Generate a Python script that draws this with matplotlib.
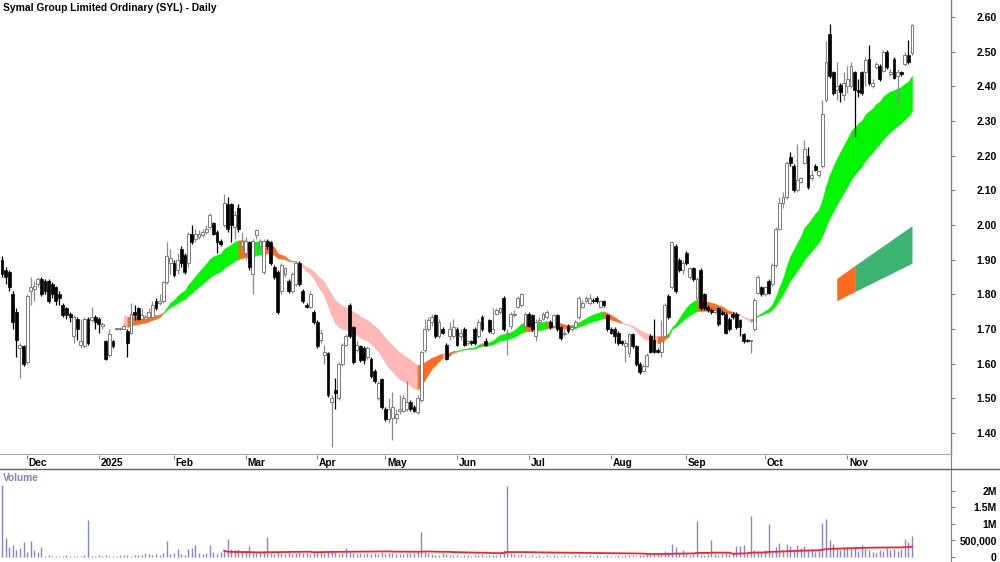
import numpy as np
import pandas as pd
import matplotlib
matplotlib.use("Agg")
import matplotlib.pyplot as plt
from matplotlib.lines import Line2D

plt.rcParams['font.family'] = ['Liberation Sans', 'DejaVu Sans']

title = "Symal Group Limited Ordinary (SYL) - Daily"

# daily OHLC, one value per trading day (late Nov 2024 -> late Nov 2025)
opens = [
    1.90, 1.87, 1.865, 1.80, 1.75, 1.645, 1.65, 1.605, 1.81, 1.815,
    1.83, 1.845, 1.84, 1.84, 1.83, 1.82, 1.80, 1.77, 1.76, 1.745,
    1.68, 1.73, 1.655, 1.65, 1.73, 1.725, 1.735, 1.73, 1.71, 1.665,
    1.625, 1.665, 1.70, 1.70, 1.70, 1.695, 1.69, 1.75, 1.76, 1.73,
    1.73, 1.735, 1.735, 1.78, 1.775, 1.78, 1.835, 1.89, 1.89, 1.87,
    1.93, 1.915, 1.89, 1.975, 1.96, 1.965, 1.97, 1.98, 1.995, 2.005,
    1.98, 1.955, 2.00, 2.06, 2.06, 1.995, 2.05, 1.94, 1.92, 1.95,
    1.86, 1.97, 1.94, 1.865, 1.955, 1.95, 1.88, 1.865, 1.81, 1.86,
    1.84, 1.81, 1.83, 1.89, 1.81, 1.77, 1.765, 1.75, 1.72, 1.67,
    1.625, 1.63, 1.49, 1.525, 1.50, 1.60, 1.655, 1.77, 1.705, 1.64,
    1.65, 1.645, 1.62, 1.615, 1.58, 1.50, 1.555, 1.47, 1.44, 1.445,
    1.445, 1.465, 1.465, 1.47, 1.49, 1.475, 1.46, 1.495, 1.64, 1.70,
    1.72, 1.74, 1.68, 1.70, 1.655, 1.68, 1.68, 1.70, 1.68, 1.70,
    1.66, 1.665, 1.70, 1.68, 1.735, 1.665, 1.725, 1.69, 1.745, 1.75,
    1.79, 1.685, 1.71, 1.74, 1.765, 1.77, 1.71, 1.745, 1.74, 1.68,
    1.72, 1.73, 1.735, 1.72, 1.71, 1.74, 1.705, 1.685, 1.71, 1.70,
    1.705, 1.735, 1.765, 1.78, 1.775, 1.785, 1.79, 1.765, 1.78, 1.74,
    1.70, 1.70, 1.69, 1.665, 1.65, 1.63, 1.685, 1.65, 1.60, 1.58,
    1.595, 1.68, 1.67, 1.64, 1.635, 1.68, 1.795, 1.82, 1.94, 1.90,
    1.87, 1.92, 1.85, 1.875, 1.79, 1.87, 1.80, 1.765, 1.755, 1.75,
    1.76, 1.75, 1.745, 1.73, 1.745, 1.745, 1.725, 1.685, 1.67, 1.665,
    1.70, 1.805, 1.82, 1.80, 1.84, 1.83, 1.885, 1.99, 2.065, 2.08,
    2.195, 2.17, 2.10, 2.125, 2.18, 2.20, 2.135, 2.17, 2.145, 2.17,
    2.36, 2.55, 2.44, 2.39, 2.405, 2.375, 2.40, 2.40, 2.44, 2.39,
    2.44, 2.44, 2.48, 2.40, 2.455, 2.46, 2.445, 2.50, 2.435, 2.48,
    2.43, 2.44, 2.465, 2.49, 2.495,
]
highs = [
    1.91, 1.88, 1.87, 1.81, 1.76, 1.66, 1.655, 1.80, 1.85, 1.84,
    1.85, 1.85, 1.845, 1.845, 1.835, 1.825, 1.81, 1.775, 1.765, 1.75,
    1.74, 1.735, 1.73, 1.735, 1.735, 1.765, 1.74, 1.735, 1.72, 1.67,
    1.70, 1.67, 1.702, 1.705, 1.715, 1.70, 1.775, 1.77, 1.765, 1.76,
    1.74, 1.76, 1.78, 1.79, 1.80, 1.84, 1.95, 1.93, 1.90, 1.92,
    1.94, 1.92, 1.98, 2.00, 1.99, 1.985, 1.99, 2.00, 2.035, 2.01,
    1.985, 1.96, 2.09, 2.08, 2.065, 2.04, 2.06, 1.98, 1.965, 1.955,
    1.96, 1.99, 1.96, 1.96, 1.96, 1.955, 1.885, 1.87, 1.89, 1.88,
    1.845, 1.865, 1.895, 1.895, 1.815, 1.775, 1.81, 1.755, 1.725, 1.70,
    1.655, 1.635, 1.51, 1.56, 1.605, 1.66, 1.685, 1.775, 1.71, 1.665,
    1.655, 1.65, 1.65, 1.62, 1.585, 1.55, 1.56, 1.475, 1.50, 1.52,
    1.47, 1.51, 1.51, 1.55, 1.495, 1.48, 1.51, 1.64, 1.73, 1.735,
    1.745, 1.745, 1.73, 1.705, 1.66, 1.72, 1.73, 1.705, 1.70, 1.705,
    1.67, 1.67, 1.705, 1.73, 1.74, 1.675, 1.73, 1.76, 1.76, 1.765,
    1.795, 1.70, 1.75, 1.755, 1.795, 1.805, 1.75, 1.75, 1.745, 1.73,
    1.735, 1.75, 1.755, 1.725, 1.745, 1.745, 1.71, 1.70, 1.715, 1.71,
    1.725, 1.795, 1.785, 1.795, 1.80, 1.79, 1.795, 1.785, 1.785, 1.745,
    1.705, 1.705, 1.695, 1.67, 1.67, 1.69, 1.69, 1.655, 1.605, 1.60,
    1.63, 1.685, 1.73, 1.645, 1.725, 1.775, 1.80, 1.955, 1.945, 1.905,
    1.90, 1.925, 1.88, 1.88, 1.85, 1.875, 1.805, 1.77, 1.76, 1.76,
    1.765, 1.755, 1.75, 1.735, 1.75, 1.75, 1.73, 1.69, 1.672, 1.67,
    1.79, 1.855, 1.825, 1.825, 1.845, 1.89, 1.995, 2.08, 2.095, 2.185,
    2.21, 2.175, 2.235, 2.14, 2.245, 2.225, 2.16, 2.175, 2.16, 2.36,
    2.53, 2.58, 2.445, 2.47, 2.41, 2.44, 2.46, 2.47, 2.445, 2.42,
    2.445, 2.485, 2.52, 2.42, 2.47, 2.465, 2.505, 2.505, 2.45, 2.485,
    2.45, 2.445, 2.50, 2.535, 2.58,
]
lows = [
    1.85, 1.83, 1.81, 1.70, 1.62, 1.56, 1.595, 1.60, 1.77, 1.78,
    1.82, 1.795, 1.80, 1.775, 1.79, 1.77, 1.77, 1.735, 1.73, 1.72,
    1.66, 1.67, 1.645, 1.645, 1.655, 1.72, 1.70, 1.69, 1.70, 1.61,
    1.62, 1.645, 1.698, 1.698, 1.70, 1.62, 1.685, 1.725, 1.725, 1.725,
    1.725, 1.73, 1.73, 1.755, 1.77, 1.775, 1.83, 1.86, 1.85, 1.86,
    1.88, 1.86, 1.88, 1.945, 1.95, 1.96, 1.965, 1.975, 1.99, 1.97,
    1.92, 1.94, 1.995, 1.98, 1.95, 1.96, 1.98, 1.93, 1.90, 1.87,
    1.80, 1.96, 1.93, 1.86, 1.93, 1.885, 1.845, 1.745, 1.80, 1.85,
    1.805, 1.805, 1.825, 1.825, 1.775, 1.76, 1.76, 1.715, 1.645, 1.66,
    1.60, 1.505, 1.36, 1.47, 1.495, 1.595, 1.65, 1.675, 1.60, 1.635,
    1.605, 1.60, 1.615, 1.56, 1.545, 1.495, 1.47, 1.435, 1.43, 1.38,
    1.43, 1.455, 1.46, 1.465, 1.465, 1.46, 1.455, 1.49, 1.635, 1.695,
    1.71, 1.675, 1.675, 1.685, 1.61, 1.67, 1.675, 1.65, 1.67, 1.65,
    1.655, 1.655, 1.655, 1.675, 1.695, 1.65, 1.69, 1.685, 1.74, 1.745,
    1.695, 1.625, 1.70, 1.735, 1.76, 1.765, 1.70, 1.705, 1.695, 1.665,
    1.715, 1.725, 1.73, 1.70, 1.705, 1.695, 1.67, 1.68, 1.69, 1.695,
    1.70, 1.73, 1.76, 1.775, 1.77, 1.775, 1.775, 1.76, 1.765, 1.695,
    1.685, 1.66, 1.655, 1.655, 1.605, 1.62, 1.645, 1.595, 1.57, 1.575,
    1.59, 1.63, 1.63, 1.63, 1.62, 1.675, 1.73, 1.815, 1.805, 1.865,
    1.86, 1.885, 1.845, 1.84, 1.785, 1.755, 1.755, 1.75, 1.745, 1.745,
    1.71, 1.74, 1.685, 1.695, 1.73, 1.70, 1.68, 1.66, 1.662, 1.63,
    1.695, 1.80, 1.795, 1.795, 1.80, 1.825, 1.88, 1.985, 2.05, 2.075,
    2.17, 2.095, 2.095, 2.12, 2.175, 2.105, 2.13, 2.155, 2.14, 2.165,
    2.355, 2.425, 2.375, 2.36, 2.355, 2.36, 2.38, 2.395, 2.255, 2.37,
    2.375, 2.40, 2.405, 2.395, 2.45, 2.415, 2.44, 2.45, 2.43, 2.42,
    2.35, 2.43, 2.46, 2.465, 2.49,
]
closes = [
    1.86, 1.85, 1.82, 1.72, 1.67, 1.655, 1.60, 1.795, 1.82, 1.825,
    1.845, 1.80, 1.81, 1.78, 1.80, 1.78, 1.79, 1.74, 1.74, 1.735,
    1.735, 1.70, 1.665, 1.73, 1.66, 1.735, 1.72, 1.715, 1.715, 1.615,
    1.685, 1.65, 1.70, 1.702, 1.71, 1.66, 1.745, 1.74, 1.73, 1.74,
    1.735, 1.75, 1.77, 1.76, 1.78, 1.835, 1.91, 1.905, 1.855, 1.90,
    1.89, 1.865, 1.975, 1.95, 1.975, 1.975, 1.98, 1.99, 2.03, 1.975,
    1.95, 1.945, 2.065, 1.99, 2.00, 2.03, 1.99, 1.955, 1.955, 1.88,
    1.955, 1.985, 1.955, 1.955, 1.94, 1.89, 1.85, 1.75, 1.885, 1.875,
    1.81, 1.86, 1.89, 1.83, 1.78, 1.765, 1.80, 1.72, 1.65, 1.69,
    1.635, 1.51, 1.50, 1.515, 1.60, 1.655, 1.68, 1.68, 1.605, 1.655,
    1.61, 1.61, 1.645, 1.565, 1.55, 1.545, 1.475, 1.44, 1.47, 1.475,
    1.455, 1.47, 1.50, 1.49, 1.47, 1.465, 1.50, 1.635, 1.70, 1.725,
    1.735, 1.68, 1.72, 1.69, 1.615, 1.70, 1.705, 1.655, 1.69, 1.655,
    1.665, 1.66, 1.66, 1.72, 1.70, 1.655, 1.695, 1.70, 1.755, 1.76,
    1.70, 1.69, 1.745, 1.745, 1.79, 1.80, 1.745, 1.71, 1.70, 1.72,
    1.725, 1.745, 1.75, 1.705, 1.74, 1.70, 1.675, 1.69, 1.695, 1.705,
    1.72, 1.79, 1.775, 1.79, 1.79, 1.78, 1.78, 1.78, 1.77, 1.70,
    1.69, 1.68, 1.66, 1.66, 1.66, 1.685, 1.65, 1.60, 1.575, 1.595,
    1.625, 1.635, 1.635, 1.635, 1.665, 1.77, 1.735, 1.95, 1.81, 1.87,
    1.89, 1.89, 1.875, 1.845, 1.845, 1.76, 1.76, 1.755, 1.75, 1.755,
    1.715, 1.745, 1.69, 1.70, 1.735, 1.705, 1.705, 1.665, 1.665, 1.668,
    1.785, 1.85, 1.80, 1.82, 1.805, 1.885, 1.99, 2.065, 2.08, 2.18,
    2.18, 2.10, 2.13, 2.135, 2.22, 2.11, 2.145, 2.16, 2.155, 2.32,
    2.47, 2.43, 2.38, 2.40, 2.385, 2.41, 2.42, 2.46, 2.39, 2.385,
    2.38, 2.475, 2.41, 2.41, 2.465, 2.42, 2.50, 2.455, 2.44, 2.425,
    2.44, 2.435, 2.49, 2.47, 2.577,
]
# daily volume, thousands of shares
volumes = [
    2170, 560, 310, 360, 210, 270, 460, 160, 490, 200,
    160, 310, 40, 70, 25, 30, 45, 20, 50, 35,
    40, 30, 45, 50, 1110, 20, 35, 60, 25, 70,
    30, 20, 30, 60, 70, 75, 30, 60, 55, 70,
    120, 90, 60, 100, 70, 130, 490, 80, 110, 250,
    90, 60, 230, 260, 360, 120, 90, 110, 360, 140,
    80, 160, 180, 540, 230, 220, 230, 160, 170, 320,
    130, 110, 140, 170, 610, 130, 90, 160, 120, 100,
    140, 90, 130, 160, 110, 150, 90, 120, 170, 140,
    110, 180, 200, 140, 90, 120, 280, 150, 110, 100,
    130, 90, 120, 80, 110, 100, 150, 90, 120, 130,
    80, 100, 90, 130, 110, 120, 160, 740, 160, 130,
    90, 60, 70, 110, 80, 50, 70, 60, 40, 50,
    70, 40, 60, 50, 80, 40, 60, 50, 70, 80,
    200, 2140, 110, 80, 60, 90, 50, 40, 60, 30,
    50, 40, 60, 30, 50, 40, 30, 60, 40, 30,
    50, 70, 40, 30, 50, 40, 60, 30, 40, 50,
    40, 30, 50, 40, 60, 50, 70, 40, 60, 50,
    80, 60, 90, 70, 100, 170, 140, 380, 290, 120,
    200, 90, 60, 80, 1080, 70, 60, 90, 510, 80,
    60, 90, 120, 100, 130, 330, 330, 360, 90, 1240,
    200, 190, 150, 210, 990, 120, 310, 430, 200, 380,
    340, 230, 360, 260, 330, 200, 240, 150, 180, 1030,
    1160, 510, 390, 250, 200, 260, 300, 230, 280, 180,
    360, 250, 220, 140, 130, 200, 190, 260, 210, 230,
    170, 250, 540, 440, 620,
]

# first trading day of each month (bar index) and its label
month_labels = ["Dec", "2025", "Feb", "Mar", "Apr", "May", "Jun",
                "Jul", "Aug", "Sep", "Oct", "Nov"]
month_pos = [7, 27, 48, 68, 88, 107, 127, 147, 170, 191, 213, 236]

price_ticks = [1.40, 1.50, 1.60, 1.70, 1.80, 1.90, 2.00, 2.10, 2.20, 2.30, 2.40, 2.50, 2.60]
vol_ticks = [0, 500000, 1000000, 1500000, 2000000]
vol_tick_labels = ["0", "500,000", "1M", "1.5M", "2M"]

# projection wedge drawn at the right of the chart
proj_x = [233, 238, 254]
proj_top = [1.846, 1.883, 1.998]
proj_bot = [1.782, 1.808, 1.890]

FAST, SLOW = 19, 36
RIBBON_START = 34
VOL_MA = 63

GREEN = "#00f500"
ORANGE = "#ff6a1e"
PINK = "#ffb6b6"
SEA = "#3cb371"
VOLCOL = "#8585d6"

o = np.array(opens)
h = np.array(highs)
l = np.array(lows)
c = np.array(closes)
v = np.array(volumes) * 1000.0
n = len(c)
x = np.arange(n)

fast = pd.Series(c).ewm(span=FAST, adjust=False).mean().to_numpy()
slow = pd.Series(c).ewm(span=SLOW, adjust=False).mean().to_numpy()

fig = plt.figure(figsize=(10, 5.62), dpi=100)
W = 951 / 1000
ax = fig.add_axes([0, 107 / 562, W, 455 / 562])
axd = fig.add_axes([0, 93 / 562, W, 14 / 562], sharex=ax)
axv = fig.add_axes([0, 0, W, 92 / 562], sharex=ax)
xmin, xmax = -0.56, 264.9

# ribbon
for i in range(RIBBON_START, n - 1):
    j = i + 1
    rising = fast[j] > fast[i]
    if fast[j] >= slow[j] and rising:
        col = GREEN
    elif fast[j] < slow[j] and not rising:
        col = PINK
    else:
        col = ORANGE
    seg = slice(i, j + 1)
    ax.fill_between(x[seg], np.minimum(fast, slow)[seg], np.maximum(fast, slow)[seg],
                    color=col, ec=col, lw=0.4, zorder=1)

ax.fill_between(proj_x[:2], proj_bot[:2], proj_top[:2], color=ORANGE, lw=0, zorder=1)
ax.fill_between(proj_x[1:], proj_bot[1:], proj_top[1:], color=SEA, lw=0, zorder=1)

# candles
up = c >= o
lo = np.minimum(o, c)
hgt = np.maximum(np.abs(c - o), 0.003)
ax.vlines(x[up], l[up], h[up], color="#8c8c8c", lw=0.9, zorder=2)
ax.vlines(x[~up], l[~up], h[~up], color="black", lw=0.9, zorder=2)
ax.bar(x[up], hgt[up], bottom=lo[up], width=0.8, color="white",
       edgecolor="#7c7c7c", lw=0.7, zorder=3)
ax.bar(x[~up], hgt[~up], bottom=lo[~up], width=0.8, color="black",
       edgecolor="black", lw=0.5, zorder=3)

ax.set_xlim(xmin, xmax)
ax.set_ylim(1.337, 2.649)
for s in ["top", "left"]:
    ax.spines[s].set_visible(False)
ax.spines["bottom"].set_color("#a8a8a8")
ax.spines["bottom"].set_linewidth(1.6)
ax.spines["right"].set_color("#808080")
ax.spines["right"].set_linewidth(1.0)
ax.tick_params(axis="x", bottom=False, labelbottom=False)
ax.yaxis.tick_right()
ax.set_yticks(price_ticks)
ax.set_yticklabels([f"{p:.2f}" for p in price_ticks], fontsize=7.5, fontweight="bold")
ax.tick_params(axis="y", direction="out", length=3, color="#808080", pad=30)
for t in ax.get_yticklabels():
    t.set_horizontalalignment("right")

fig.text(0.003, 1 - 8 / 562, title, fontsize=7.4, fontweight="bold", va="center", ha="left")

# date band
axd.set_ylim(0, 1)
axd.set_yticks([])
for s in ["top", "left"]:
    axd.spines[s].set_visible(False)
axd.spines["bottom"].set_visible(False)
axd.spines["right"].set_color("#808080")
axd.set_xticks(month_pos)
axd.tick_params(axis="x", bottom=False, labelbottom=False, top=True, direction="in",
                length=3, color="#808080")
for p, lab in zip(month_pos, month_labels):
    axd.text(p + 0.5, 0.42, lab, fontsize=7.3, fontweight="bold", ha="left", va="center")
fig.add_artist(Line2D([0, 1], [93.5 / 562, 93.5 / 562], color="#606060", lw=1.0))

# volume
axv.vlines(x, 0, v, color=VOLCOL, lw=1.0, zorder=2)
vma = pd.Series(v).rolling(VOL_MA).mean()
axv.plot(x, vma, color="#ff2020", lw=1.3, zorder=3)
axv.set_ylim(-0.151e6, 2.624e6)
for s in ["top", "left", "bottom"]:
    axv.spines[s].set_visible(False)
axv.spines["right"].set_color("#808080")
axv.tick_params(axis="x", bottom=False, labelbottom=False)
axv.yaxis.tick_right()
axv.set_yticks(vol_ticks)
axv.set_yticklabels(vol_tick_labels, fontsize=7.5, fontweight="bold")
axv.tick_params(axis="y", direction="out", length=3, color="#808080", pad=30)
for t in axv.get_yticklabels():
    t.set_horizontalalignment("right")
fig.text(0.003, 1 - 478 / 562, "Volume", fontsize=7.3, fontweight="bold",
         color="#8080c0", va="center", ha="left")

fig.savefig("out.png", dpi=100)
